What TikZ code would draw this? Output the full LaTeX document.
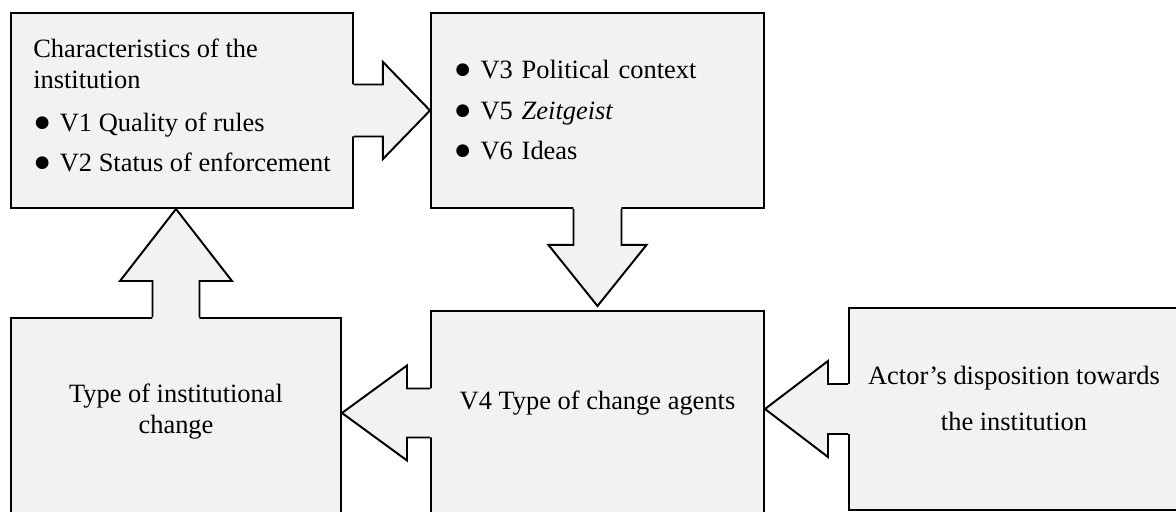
\documentclass[tikz,border=0pt]{standalone}
\usepackage{fontspec}
\setmainfont{Liberation Serif}
\usetikzlibrary{positioning}
\definecolor{boxgray}{RGB}{242,242,242}
\newcommand{\bul}{{\fontsize{21pt}{0pt}\selectfont ●}\hspace{2.2mm}}
% block arrow glued to a box: source, angle, shaft half, shaft length, head half, tip
\newcommand{\bigarrow}[6]{%
  \begin{scope}[shift={(#1)}, rotate=#2]
    \fill[boxgray] (-3,-#3) -- (#4,-#3) -- (#4,-#5) -- (#6) -- (#4,#5) -- (#4,#3) -- (-3,#3) -- cycle;
    \draw[edge] (0,-#3) -- (#4,-#3) -- (#4,-#5) -- (#6) -- (#4,#5) -- (#4,#3) -- (0,#3);
  \end{scope}}

\begin{document}
\begin{tikzpicture}[
    x=0.25mm, y=-0.25mm,
    box/.style={draw, line width=1.4pt, fill=boxgray, inner sep=0pt, anchor=north west,
      font=\fontsize{18.8pt}{21.8pt}\selectfont},
    edge/.style={line width=1.4pt, line join=miter}
]
\useasboundingbox (0,0) rectangle (1176,511);
\clip (0,0) rectangle (1176,511);

\node[box, minimum width=85.5mm, minimum height=48.75mm, align=left, text depth=2.5mm] (inst) at (10,12)
  {Characteristics of the\\institution\\[8.8pt]\bul V1 Quality of rules\\[6.6pt]\bul V2 Status of enforcement};
\node[box, minimum width=83.25mm, minimum height=48.75mm, text width=71.75mm, align=left] (ctx) at (430,12)
  {\bul V3 Political context\\[7pt]\bul V5 \textit{Zeitgeist}\\[7pt]\bul V6 Ideas};
\node[box, minimum width=82.5mm, minimum height=49.5mm, align=center, text depth=4mm] (change) at (10,317)
  {Type of institutional\\change};
\node[box, minimum width=83.25mm, minimum height=51mm, text depth=6.5mm] (agents) at (430,310)
  {V4 Type of change agents};
\node[box, minimum width=82.5mm, minimum height=50.5mm, align=center, text depth=5.5mm] (actor) at (848,307)
  {Actor’s disposition towards\\[10.8pt]the institution};

% arrow tips
\coordinate (tipctx) at (ctx.west);
\coordinate (tipagents) at ([yshift=1mm]agents.north);
\coordinate (tipchange) at (agents.west -| change.east);
\coordinate (tipfromactor) at (actor.west -| agents.east);
\coordinate (tipinst) at (change.north |- inst.south);

\bigarrow{inst.east}{0}{26}{29}{48.5}{tipctx}
\bigarrow{ctx.south}{270}{24}{36}{49}{tipagents}
\bigarrow{agents.west}{180}{24.5}{23}{47.5}{tipchange}
\bigarrow{actor.west}{180}{25}{20}{48}{tipfromactor}
\bigarrow{change.north}{90}{23.5}{36}{56}{tipinst}
\end{tikzpicture}
\end{document}
